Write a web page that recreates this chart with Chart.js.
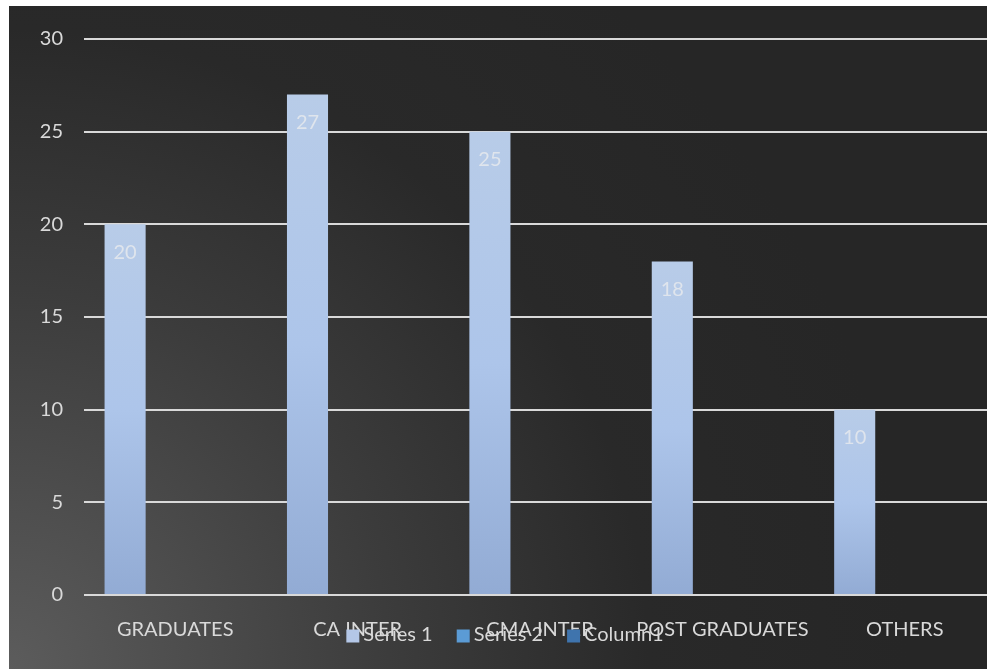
<!DOCTYPE html>
<html>
<head>
    <title>Chart</title>
    <script src="https://cdn.jsdelivr.net/npm/chart.js@4"></script>
    <style>
        html, body { margin: 0; padding: 0; overflow: hidden; background: #fff; width: 987px; height: 669px; }
        #wrap {
            position: absolute; left: 9px; top: 6px; width: 990px; height: 663px;
            background: radial-gradient(circle at 0 100%, #5c5c5c 0, #3c3c3c 380px, #292929 640px, #262626 900px);
        }
    </style>
</head>
<body>
    <div id="wrap"><canvas id="chart"></canvas></div>

    <script>
        // 데이터
        const categories = ['GRADUATES', 'CA INTER', 'CMA INTER', 'POST GRADUATES', 'OTHERS'];
        const series1 = [20, 27, 25, 18, 10];
        const series2 = [null, null, null, null, null];
        const column1 = [null, null, null, null, null];
        const yTicks = [0, 5, 10, 15, 20, 25, 30];

        const FONT = 'Lato, "Open Sans", sans-serif';
        const TEXT = '#d9d9d9';

        // 막대마다 위쪽이 밝은 그라디언트
        function barFill(ctx) {
            const chart = ctx.chart;
            if (!chart.chartArea || ctx.parsed == null) return '#b4c7e7';
            const y = chart.scales.y;
            const top = y.getPixelForValue(ctx.parsed.y);
            const base = y.getPixelForValue(0);
            if (!isFinite(top) || base - top < 1) return '#b4c7e7';
            const g = chart.ctx.createLinearGradient(0, top, 0, base);
            g.addColorStop(0, '#b8cce8');
            g.addColorStop(0.5, '#adc5ea');
            g.addColorStop(1, '#92abd4');
            return g;
        }

        // 막대 안쪽 위에 값 표시
        const valueLabels = {
            id: 'valueLabels',
            afterDatasetsDraw(chart) {
                const ctx = chart.ctx;
                const meta = chart.getDatasetMeta(0);
                ctx.save();
                ctx.font = '20px ' + FONT;
                ctx.fillStyle = 'rgba(238,238,238,0.72)';
                ctx.textAlign = 'center';
                ctx.textBaseline = 'middle';
                meta.data.forEach((bar, i) => {
                    ctx.fillText(String(series1[i]), bar.x, bar.y + 28);
                });
                ctx.restore();
            }
        };

        // 범례 (x축 라벨 위에 겹쳐 그려짐)
        const bottomLegend = {
            id: 'bottomLegend',
            afterDraw(chart) {
                const ctx = chart.ctx;
                const items = chart.data.datasets.map(d => ({ text: d.label, color: d.legendColor }));
                ctx.save();
                ctx.font = '20px ' + FONT;
                const box = 13, gap = 4, space = 24;
                let total = 0;
                items.forEach((it, i) => {
                    it.w = ctx.measureText(it.text).width;
                    total += box + gap + it.w + (i < items.length - 1 ? space : 0);
                });
                let x = 496 - total / 2;
                const cy = 629;
                ctx.textBaseline = 'middle';
                ctx.textAlign = 'left';
                items.forEach(it => {
                    ctx.fillStyle = it.color;
                    ctx.fillRect(x, cy - box / 2 + 1, box, box);
                    ctx.fillStyle = TEXT;
                    ctx.fillText(it.text, x + box + gap, cy);
                    x += box + gap + it.w + space;
                });
                ctx.restore();
            }
        };

        new Chart(document.getElementById('chart'), {
            type: 'bar',
            data: {
                labels: categories,
                datasets: [
                    { label: 'Series 1', data: series1, backgroundColor: barFill, legendColor: '#b4c7e7' },
                    { label: 'Series 2', data: series2, backgroundColor: '#5b9bd5', legendColor: '#5b9bd5' },
                    { label: 'Column1', data: column1, backgroundColor: '#41719c', legendColor: '#3f74ad' }
                ]
            },
            options: {
                responsive: true,
                maintainAspectRatio: false,
                animation: false,
                categoryPercentage: 0.824,
                barPercentage: 0.82,
                layout: { padding: { top: 33, right: 3, left: 0, bottom: 0 } },
                plugins: {
                    legend: { display: false },
                    tooltip: { enabled: false }
                },
                scales: {
                    x: {
                        grid: { display: false },
                        border: { display: false },
                        ticks: { color: TEXT, font: { family: FONT, size: 20 }, padding: 15, maxRotation: 0, autoSkip: false },
                        afterFit(scale) { scale.height = 74; }
                    },
                    y: {
                        min: 0,
                        max: 30,
                        afterBuildTicks(scale) { scale.ticks = yTicks.map(v => ({ value: v })); },
                        grid: { color: '#d9d9d9', lineWidth: 2, drawTicks: false },
                        border: { display: false },
                        ticks: { color: TEXT, font: { family: FONT, size: 20 }, padding: 21 },
                        afterFit(scale) { scale.width = 75; }
                    }
                }
            },
            plugins: [valueLabels, bottomLegend]
        });
    </script>
</body>
</html>
